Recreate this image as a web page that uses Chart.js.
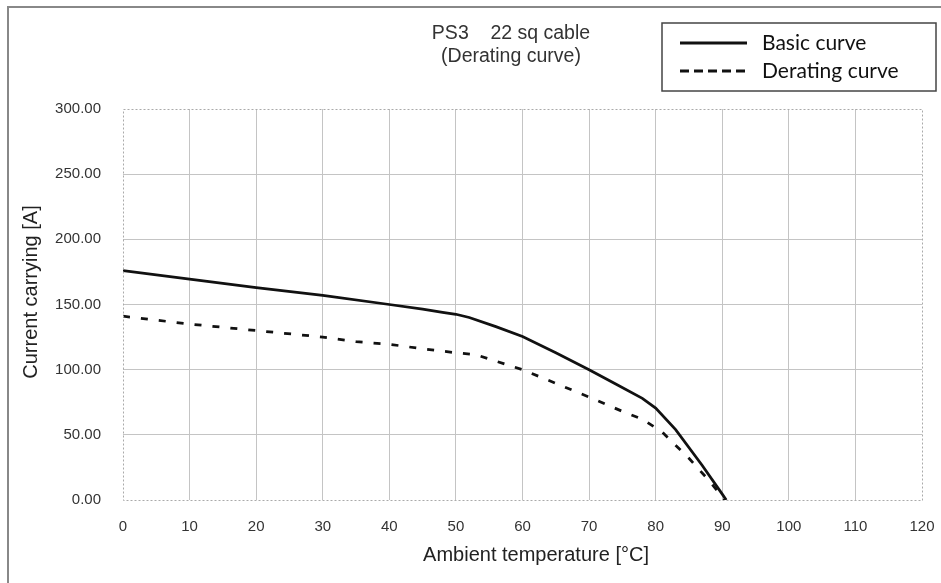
<!DOCTYPE html>
<html>
<head>
<meta charset="utf-8">
<script src="https://cdn.jsdelivr.net/npm/chart.js@4"></script>
<style>
  html, body { margin: 0; padding: 0; background: #fff; }
  #wrap { position: relative; width: 941px; height: 583px; }
</style>
</head>
<body>
<div id="wrap"><canvas id="deratingChart" width="941" height="583"></canvas></div>
<script>
// values
const basicTemps = [0, 10, 20, 30, 40, 45, 48, 50, 52, 56, 60, 65, 70, 74, 78, 80, 83, 87, 90, 90.6];
const basicAmps = [176, 169.5, 163, 157, 150, 146.5, 144, 142.5, 140, 133, 125.5, 113, 100, 89, 78, 70.5, 54, 26.5, 4.5, 0];
const deratingTemps = [0, 5, 10, 20, 30, 35, 40, 45, 50, 53, 56, 60, 65, 70, 75, 78, 81, 85, 88, 90.4];
const deratingAmps = [141, 138, 135, 130, 125, 121.5, 119.5, 116, 113, 111.5, 106.5, 100, 89.5, 79, 68, 62, 52, 32, 15, 0];
const seriesNames = ["Basic curve", "Derating curve"];
const xTicks = [0, 10, 20, 30, 40, 50, 60, 70, 80, 90, 100, 110, 120];
const yTicks = [0, 50, 100, 150, 200, 250, 300];
const titleLines = ["PS3    22 sq cable", "(Derating curve)"];
const xTitle = "Ambient temperature [°C]";
const yTitle = "Current carrying [A]";

const sansFont = "'Liberation Sans', Arial, sans-serif";

function toPoints(xs, ys) {
  return xs.map((x, i) => ({ x: x, y: ys[i] }));
}

// frame, titles, dotted plot border and boxed legend
const decor = {
  id: "decor",
  beforeDraw(chart) {
    const c = chart.ctx;
    c.save();
    c.fillStyle = "#fff";
    c.fillRect(0, 0, chart.width, chart.height);
    c.strokeStyle = "#888";
    c.lineWidth = 2;
    c.strokeRect(8, 7, 940, 580);
    c.restore();
  },
  afterDraw(chart) {
    const c = chart.ctx;
    const a = chart.chartArea;
    c.save();
    c.strokeStyle = "#aaa";
    c.lineWidth = 1;
    c.setLineDash([2, 2]);
    c.strokeRect(a.left + 0.5, a.top + 0.5, a.right - a.left, a.bottom - a.top);
    c.setLineDash([]);

    c.fillStyle = "#333";
    c.font = "19.5px " + sansFont;
    c.textAlign = "center";
    c.textBaseline = "middle";
    c.fillText(titleLines[0], 511, 34);
    c.fillText(titleLines[1], 511, 57);

    // axis titles
    c.fillStyle = "#222";
    c.font = "20px " + sansFont;
    c.fillText(xTitle, 536, 555);
    c.save();
    c.translate(31, 292);
    c.rotate(-Math.PI / 2);
    c.fillText(yTitle, 0, 0);
    c.restore();

    // legend box
    c.strokeStyle = "#444";
    c.lineWidth = 1.5;
    c.strokeRect(662, 23, 274, 68);
    c.font = "21px Lato, 'Open Sans', sans-serif";
    c.textAlign = "left";
    chart.data.datasets.forEach((ds, i) => {
      const y = 43 + i * 28;
      c.strokeStyle = ds.borderColor;
      c.lineWidth = 3;
      c.setLineDash(ds.borderDash ? [9, 5] : []);
      c.beginPath();
      c.moveTo(680, y);
      c.lineTo(747, y);
      c.stroke();
      c.setLineDash([]);
      c.fillStyle = "#111";
      c.fillText(ds.label, 762, y);
    });
    c.restore();
  }
};

const gridColor = ctx => {
  const v = ctx.tick ? ctx.tick.value : null;
  if (v === 0 || v === 300 || v === 120) return "rgba(0,0,0,0)";
  return "#c4c4c4";
};

new Chart(document.getElementById("deratingChart").getContext("2d"), {
  type: "line",
  data: {
    datasets: [
      {
        label: seriesNames[0],
        data: toPoints(basicTemps, basicAmps),
        borderColor: "#111",
        borderWidth: 2.75,
        pointRadius: 0,
        tension: 0,
        fill: false
      },
      {
        label: seriesNames[1],
        data: toPoints(deratingTemps, deratingAmps),
        borderColor: "#111",
        borderWidth: 2.75,
        borderDash: [7, 11],
        pointRadius: 0,
        tension: 0,
        fill: false
      }
    ]
  },
  options: {
    responsive: false,
    animation: false,
    layout: { padding: { top: 109, left: 16, right: 0, bottom: 0 } },
    plugins: {
      legend: { display: false },
      title: { display: false },
      tooltip: { enabled: false }
    },
    scales: {
      x: {
        type: "linear",
        min: 0,
        max: 120,
        afterBuildTicks: s => { s.ticks = xTicks.map(v => ({ value: v })); },
        afterFit: s => { s.height = 83; s.paddingLeft = 0; s.paddingRight = 19; },
        grid: { color: gridColor, drawTicks: false },
        border: { display: false },
        ticks: {
          padding: 18,
          color: "#333",
          font: { family: sansFont, size: 15 },
          maxRotation: 0
        }
      },
      y: {
        min: 0,
        max: 300,
        afterBuildTicks: s => { s.ticks = yTicks.map(v => ({ value: v })); },
        afterFit: s => { s.width = 123 - 16; },
        grid: { color: gridColor, drawTicks: false },
        border: { display: false },
        ticks: {
          padding: 22,
          color: "#333",
          font: { family: sansFont, size: 15 },
          callback: v => v.toFixed(2)
        }
      }
    }
  },
  plugins: [decor]
});
</script>
</body>
</html>
